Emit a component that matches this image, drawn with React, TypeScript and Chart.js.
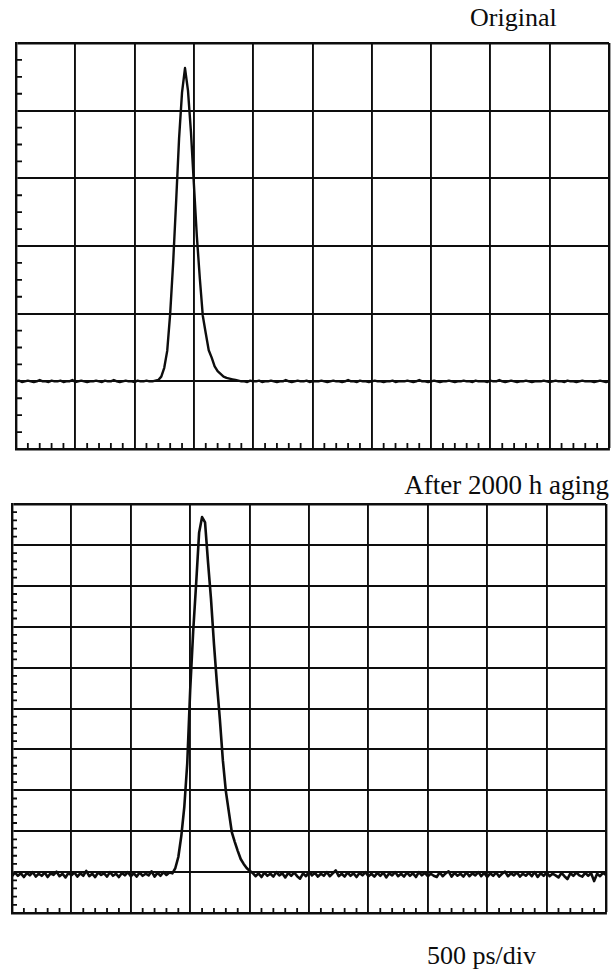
import { useEffect, useRef } from "react";
import { Chart, registerables } from "chart.js";

Chart.register(...registerables);

// Sampling of the recorded waveforms (ps) and the time base.
const SAMPLE_PS = 25;
const SPAN_PS = 5000;
const DIV_PS = 500;

// Detector output in screen divisions, one value every SAMPLE_PS.
const originalTrace = [
  1.00, 1.01, 0.99, 1.00, 1.01, 1.00, 0.99, 1.00, 1.02, 1.00,
  1.00, 0.99, 1.01, 1.00, 1.00, 1.01, 0.99, 1.00, 1.00, 1.02,
  0.99, 1.00, 1.01, 1.00, 0.99, 1.00, 1.00, 1.01, 1.00, 0.99,
  1.01, 1.00, 1.00, 1.02, 1.00, 0.99, 1.00, 1.01, 1.00, 1.00,
  0.99, 1.01, 1.00, 1.00, 1.01, 1.00,
  1.00, 1.01, 1.02, 1.07, 1.20, 1.45, 2.00, 2.75, 3.65, 4.59,
  5.27, 5.63, 5.30, 4.69, 3.91, 3.14, 2.52, 1.97, 1.71, 1.46,
  1.35, 1.22, 1.15, 1.11, 1.07, 1.05, 1.04, 1.03, 1.02, 1.01,
  1.00, 1.00, 0.99, 1.01, 1.00, 1.00, 1.01, 0.99, 1.00, 1.00,
  1.01, 1.00, 0.99, 1.00, 1.00, 1.02, 1.00, 0.99, 1.00, 1.01,
  1.00, 1.00, 1.01, 0.99, 1.00, 1.00, 1.00, 1.01, 1.00, 0.99,
  1.00, 1.01, 1.00, 1.00, 0.99, 1.00, 1.02, 1.00, 1.00, 0.99,
  1.01, 1.00, 1.00, 0.99, 1.00, 1.01, 1.00, 1.00, 0.99, 1.00,
  1.00, 1.01, 0.99, 1.00, 1.00, 1.00, 1.01, 1.00, 0.99, 1.00,
  1.02, 1.00, 1.00, 0.99, 1.00, 1.01, 1.00, 0.99, 1.00, 1.00,
  1.01, 1.00, 0.99, 1.00, 1.00, 1.01, 1.00, 1.00, 0.99, 1.01,
  1.00, 1.00, 1.00, 0.99, 1.01, 1.00, 1.00, 1.02, 1.00, 0.99,
  1.00, 1.01, 1.00, 0.99, 1.00, 1.00, 1.01, 1.00, 0.99, 1.00,
  1.00, 1.00, 1.01, 1.00, 0.99, 1.00, 1.01, 1.00, 1.00, 0.99,
  1.01, 1.00, 1.00, 0.99, 1.00, 1.01, 1.00, 1.00, 1.00, 0.99,
  1.00, 1.01, 1.00, 0.99, 1.00,
];

const agedTrace = [
  0.90, 0.99, 0.91, 0.97, 0.88, 0.98, 0.92, 1.00, 0.89, 0.96,
  0.91, 0.99, 0.88, 0.97, 0.93, 1.01, 0.90, 0.96, 0.87, 0.98,
  0.92, 0.99, 0.89, 0.97, 0.91, 1.03, 0.90, 0.96, 0.88, 0.99,
  0.93, 0.97, 0.89, 1.00, 0.91, 0.96, 0.88, 0.98, 0.92, 1.00,
  0.90, 0.97, 0.89, 0.99, 0.91, 0.96, 0.92, 1.02, 0.89, 0.98,
  0.91, 1.00, 0.93, 0.99,
  0.97, 1.10, 1.37, 1.88, 2.58, 3.65, 5.46, 6.88, 8.05, 9.30,
  9.68, 9.55, 8.58, 7.68, 6.58, 5.61, 4.72, 3.73, 2.98, 2.48,
  1.98, 1.74, 1.52, 1.32, 1.20, 1.10, 1.03, 0.98,
  0.90, 0.97, 0.88, 0.99, 0.91, 0.96, 0.89, 1.00, 0.92, 0.97,
  0.87, 0.98, 0.91, 0.99, 0.90, 0.84, 0.97, 0.90, 1.01, 0.92,
  0.98, 0.89, 0.96, 0.91, 1.00, 0.90, 0.97, 1.04, 0.90, 0.96,
  0.89, 0.99, 0.91, 0.97, 0.88, 0.98, 0.92, 1.00, 0.90, 0.96,
  0.89, 0.98, 0.91, 0.99, 0.87, 0.97, 0.92, 1.00, 0.90, 0.96,
  0.89, 0.99, 0.91, 0.97, 0.88, 1.00, 0.92, 0.98, 0.90, 0.96,
  0.91, 0.88, 0.99, 0.90, 0.97, 1.02, 0.89, 0.98, 0.91, 0.96,
  0.89, 0.99, 0.90, 0.97, 0.92, 1.00, 0.90, 0.98, 0.88, 0.97,
  0.91, 0.99, 0.89, 0.96, 1.01, 0.90, 0.97, 0.92, 0.99, 0.89,
  0.96, 0.91, 0.98, 0.90, 1.00, 0.88, 0.97, 0.91, 0.99, 0.90,
  0.96, 0.92, 0.87, 0.98, 0.90, 0.83, 0.97, 0.91, 0.99, 0.92,
  0.89, 0.98, 0.91, 0.97, 0.78, 0.96, 0.90, 0.98, 0.93,
];

const originalTitle = "Original";
const agedTitle = "After 2000 h aging";
const timebaseLabel = "500 ps/div";

const INK = "#0d0d0d";
const SERIF = '"Liberation Serif", "Times New Roman", Times, serif';

// Short inward graticule marks along the left and bottom edges.
const minorTicks = {
  id: "minorTicks",
  afterDatasetsDraw(chart: any, _args: any, opts: any) {
    const { ctx, chartArea, scales } = chart;
    const x = scales.x;
    const y = scales.y;
    ctx.save();
    ctx.strokeStyle = INK;
    ctx.lineWidth = 1.8;
    ctx.beginPath();
    const ySteps = y.max * opts.ySub;
    for (let k = 1; k < ySteps; k++) {
      if (k % opts.ySub === 0) continue;
      const py = y.getPixelForValue(k / opts.ySub);
      ctx.moveTo(chartArea.left, py);
      ctx.lineTo(chartArea.left + opts.len, py);
    }
    const xSteps = (x.max / DIV_PS) * opts.xSub;
    for (let k = 1; k < xSteps; k++) {
      if (k % opts.xSub === 0) continue;
      const px = x.getPixelForValue((k * DIV_PS) / opts.xSub);
      ctx.moveTo(px, chartArea.bottom);
      ctx.lineTo(px, chartArea.bottom - opts.len);
    }
    ctx.stroke();
    ctx.restore();
  },
};

type ScopeProps = {
  values: number[];
  rows: number;
  ySub: number;
  left: number;
  top: number;
  width: number;
  height: number;
  tickLen: number;
  traceWidth: number;
};

function Scope({ values, rows, ySub, left, top, width, height, tickLen, traceWidth }: ScopeProps) {
  const ref = useRef<HTMLCanvasElement>(null);

  useEffect(() => {
    const points = values.map((v, i) => ({ x: i * SAMPLE_PS, y: v }));
    const edgeWidth = (max: number) => (c: any) =>
      c.tick && c.tick.value === max ? 2.4 : 1.9;

    const chart = new Chart(ref.current as HTMLCanvasElement, {
      type: "line",
      data: {
        datasets: [
          {
            data: points,
            borderColor: INK,
            borderWidth: traceWidth,
            borderJoinStyle: "round",
            pointRadius: 0,
            tension: 0,
            fill: false,
          },
        ],
      },
      options: {
        animation: false,
        responsive: false,
        devicePixelRatio: 1,
        layout: { padding: { left: 4, right: 3, top: 4, bottom: 4 } },
        plugins: {
          legend: { display: false },
          tooltip: { enabled: false },
          title: { display: false },
          minorTicks: { ySub, xSub: 5, len: tickLen },
        } as any,
        scales: {
          x: {
            type: "linear",
            min: 0,
            max: SPAN_PS,
            ticks: { display: false, stepSize: DIV_PS },
            grid: { color: INK, lineWidth: edgeWidth(SPAN_PS), drawTicks: false },
            border: { display: true, color: INK, width: 2.4 },
          },
          y: {
            type: "linear",
            min: 0,
            max: rows,
            ticks: { display: false, stepSize: 1 },
            grid: { color: INK, lineWidth: edgeWidth(rows), drawTicks: false },
            border: { display: true, color: INK, width: 2.4 },
          },
        },
      },
      plugins: [minorTicks],
    });
    return () => chart.destroy();
  }, [values, rows, ySub, tickLen, traceWidth]);

  return (
    <canvas
      ref={ref}
      width={width}
      height={height}
      style={{ position: "absolute", left, top, width, height }}
    />
  );
}

const textStyle = {
  position: "absolute" as const,
  fontFamily: SERIF,
  lineHeight: 1,
  color: INK,
  whiteSpace: "nowrap" as const,
};

export default function App() {
  return (
    <div
      style={{
        position: "absolute",
        left: 0,
        top: 0,
        width: 612,
        height: 971,
        background: "#fff",
        overflow: "hidden",
      }}
    >
      <div style={{ ...textStyle, fontSize: 26, left: 470, top: 5 }}>{originalTitle}</div>
      <Scope values={originalTrace} rows={6} ySub={4} left={12} top={39} width={600} height={414} tickLen={6} traceWidth={2.4} />
      <div style={{ ...textStyle, fontSize: 27, right: 3, top: 472 }}>{agedTitle}</div>
      <Scope values={agedTrace} rows={10} ySub={5} left={8} top={500} width={601} height={417} tickLen={5} traceWidth={2.6} />
      <div style={{ ...textStyle, fontSize: 26, left: 427, top: 943 }}>{timebaseLabel}</div>
    </div>
  );
}
